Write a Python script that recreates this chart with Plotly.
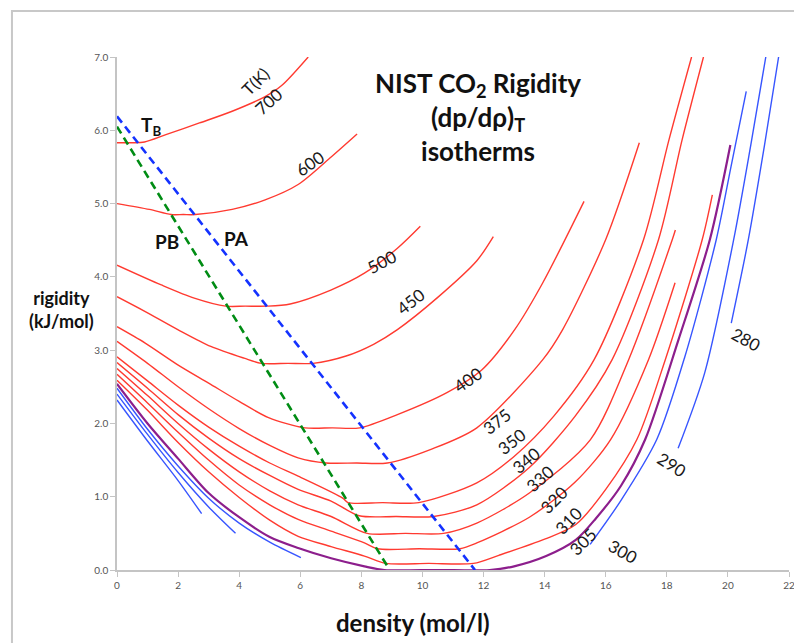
import plotly.graph_objects as go

# ---------------- data (density mol/l, rigidity kJ/mol) ----------------
rho_700 = [0, 0.5, 0.9, 1.6, 2.7, 3.77, 4.85, 5.39, 6.26]
rig_700 = [5.83, 5.83, 5.84, 5.94, 6.10, 6.26, 6.46, 6.61, 7.0]

rho_600 = [0, 1.06, 1.77, 2.17, 2.57, 3.77, 4.85, 5.93, 7.02, 7.86]
rig_600 = [5.0, 4.92, 4.85, 4.85, 4.85, 4.92, 5.05, 5.26, 5.64, 5.95]

rho_500 = [0, 1.45, 2.53, 3.56, 4.2, 4.91, 5.67, 7.0, 8.1, 9.18, 9.93]
rig_500 = [4.16, 3.89, 3.71, 3.60, 3.60, 3.60, 3.63, 3.82, 4.05, 4.39, 4.69]

rho_450 = [0, 0.91, 1.99, 3.07, 4.16, 4.72, 5.6, 6.42, 7.5, 8.4, 9.18, 10.5, 11.78, 12.32]
rig_450 = [3.73, 3.53, 3.28, 3.05, 2.89, 2.82, 2.82, 2.82, 2.92, 3.08, 3.28, 3.72, 4.22, 4.55]

rho_400 = [0, 0.91, 1.99, 3.0, 4.0, 4.96, 6.15, 7.05, 7.95, 9.18, 10.8, 11.94, 13.02, 13.94, 15.29]
rig_400 = [3.32, 3.10, 2.80, 2.55, 2.30, 2.08, 1.94, 1.94, 1.94, 2.12, 2.42, 2.73, 3.28, 3.92, 5.03]

rho_375 = [0, 1, 2, 3, 4, 5, 5.93, 6.85, 7.85, 8.85, 10.3, 11.78, 13.94, 14.59, 16.0, 17.1]
rig_375 = [3.12, 2.82, 2.50, 2.20, 1.93, 1.70, 1.53, 1.46, 1.46, 1.46, 1.65, 1.94, 2.87, 3.28, 4.51, 5.83]

rho_350 = [0, 1, 2, 3, 4, 5, 5.93, 7.39, 7.56, 8.7, 9.88, 11.78, 13.0, 14.3, 15.62, 17.24, 18.07, 18.81]
rig_350 = [2.91, 2.58, 2.25, 1.95, 1.69, 1.46, 1.28, 0.98, 0.92, 0.92, 0.92, 1.19, 1.55, 2.10, 2.87, 4.51, 5.87, 7.0]

rho_340 = [0, 1, 2, 3, 4, 5, 5.93, 7.01, 7.93, 9.15, 10.37, 11.78, 13.5, 15.0, 16.21, 17.73, 18.5, 19.2]
rig_340 = [2.83, 2.48, 2.12, 1.80, 1.52, 1.29, 1.10, 0.94, 0.74, 0.73, 0.73, 0.89, 1.40, 2.10, 2.87, 4.51, 5.87, 7.0]

rho_330 = [0, 1, 2, 3, 4, 5, 5.93, 7.01, 8.19, 9.45, 10.69, 11.78, 13.5, 15.5, 16.75, 18.18, 18.28]
rig_330 = [2.75, 2.38, 2.00, 1.65, 1.34, 1.08, 0.89, 0.73, 0.50, 0.50, 0.50, 0.64, 1.05, 1.78, 2.87, 4.51, 4.64]

rho_320 = [0, 1, 2, 3, 4, 5, 5.93, 7.01, 8.1, 8.53, 9.9, 11.23, 11.78, 13.5, 15.0, 16.16, 17.4, 18.27]
rig_320 = [2.67, 2.28, 1.88, 1.50, 1.16, 0.89, 0.69, 0.53, 0.37, 0.29, 0.29, 0.29, 0.37, 0.72, 1.20, 1.78, 2.87, 3.92]

rho_310 = [0, 1, 2, 3, 4, 5, 5.93, 7.01, 8.1, 8.8, 10.2, 11.67, 12.5, 14.0, 15.02, 16.0, 17.02, 17.95, 19.16, 19.49]
rig_310 = [2.59, 2.18, 1.74, 1.34, 0.99, 0.68, 0.46, 0.32, 0.19, 0.09, 0.09, 0.09, 0.20, 0.42, 0.62, 1.10, 1.78, 2.87, 4.51, 5.12]

rho_305 = [0, 1, 2, 3, 4, 5, 5.93, 7.01, 8.1, 8.75, 10.5, 12.2, 13.0, 14.05, 15.02, 15.67, 16.5, 17.29, 18.38, 19.41, 20.08]
rig_305 = [2.54, 2.00, 1.52, 1.05, 0.72, 0.45, 0.30, 0.16, 0.05, 0.0, 0.0, 0.0, 0.05, 0.19, 0.41, 0.70, 1.15, 1.78, 3.14, 4.51, 5.80]

# sub-critical isotherms: gas branch and liquid branch
rho_300_gas = [0, 1, 2, 3, 4, 5, 6.02]
rig_300_gas = [2.48, 1.92, 1.42, 0.98, 0.64, 0.38, 0.17]
rho_300_liq = [15.49, 16.5, 17.67, 18.59, 19.62, 20.1, 20.6]
rig_300_liq = [0.35, 0.95, 1.78, 2.91, 4.51, 5.5, 6.53]

rho_290_gas = [0, 1, 2, 3, 3.88]
rig_290_gas = [2.40, 1.85, 1.33, 0.86, 0.50]
rho_290_liq = [18.37, 19.24, 20.19, 20.75, 21.24]
rig_290_liq = [1.66, 2.69, 4.51, 5.80, 7.0]

rho_280_gas = [0, 1, 2, 2.77]
rig_280_gas = [2.32, 1.76, 1.22, 0.77]
rho_280_liq = [20.11, 20.67, 21.2, 21.66]
rig_280_liq = [3.37, 4.51, 5.80, 7.0]

# percolation boundaries
rho_PB = [0, 8.9]
rig_PB = [6.05, 0.02]
rho_PA = [0, 11.72]
rig_PA = [6.19, 0.0]

# isotherm labels
label_text = ["T(K)", "700", "600", "500", "450", "400", "375", "350", "340", "330", "320", "310", "305", "300", "290", "280"]
label_rho = [4.53, 4.96, 6.31, 8.69, 9.61, 11.5, 12.43, 12.92, 13.38, 13.85, 14.32, 14.79, 15.26, 16.56, 18.16, 20.6]
label_rig = [6.67, 6.39, 5.55, 4.21, 3.66, 2.6, 2.03, 1.75, 1.50, 1.25, 0.96, 0.67, 0.39, 0.25, 1.44, 3.14]
label_angle = [-45, -42, -35, -28, -38, -35, -38, -38, -40, -42, -45, -45, -45, 30, 32, 28]

x_ticks = [0, 2, 4, 6, 8, 10, 12, 14, 16, 18, 20, 22]
y_ticks = [0, 1, 2, 3, 4, 5, 6, 7]

# ---------------- figure ----------------
RED = "rgb(255,58,48)"
BLUE = "rgb(55,85,255)"
PURPLE = "rgb(140,30,140)"

fig = go.Figure()

def add_line(x, y, color, width=1.4, dash=None, smooth=0.8):
    fig.add_trace(go.Scatter(
        x=x, y=y, mode="lines",
        line=dict(color=color, width=width, dash=dash,
                  shape="spline" if smooth else "linear",
                  smoothing=smooth if smooth else None),
        hoverinfo="skip", showlegend=False))

for xs, ys in [(rho_700, rig_700), (rho_600, rig_600), (rho_500, rig_500),
               (rho_450, rig_450), (rho_400, rig_400), (rho_375, rig_375),
               (rho_350, rig_350), (rho_340, rig_340), (rho_330, rig_330),
               (rho_320, rig_320), (rho_310, rig_310)]:
    add_line(xs, ys, RED)

for xs, ys in [(rho_300_gas, rig_300_gas), (rho_300_liq, rig_300_liq),
               (rho_290_gas, rig_290_gas), (rho_290_liq, rig_290_liq),
               (rho_280_gas, rig_280_gas), (rho_280_liq, rig_280_liq)]:
    add_line(xs, ys, BLUE)

add_line(rho_305, rig_305, PURPLE, width=2.2)

add_line(rho_PB, rig_PB, "rgb(0,140,20)", width=2.6, dash="8px,5px", smooth=0)
add_line(rho_PA, rig_PA, "rgb(20,50,255)", width=2.6, dash="8px,5px", smooth=0)

FONT = "Lato, 'Open Sans', sans-serif"
annotations = []
for t, xx, yy, a in zip(label_text, label_rho, label_rig, label_angle):
    annotations.append(dict(x=xx, y=yy, text=t, textangle=a, showarrow=False,
                            xanchor="center", yanchor="middle",
                            font=dict(family=FONT, size=17, color="#1a1a1a")))

annotations += [
    dict(x=0.537, y=0.985, xref="paper", yref="paper",
         text="<b>NIST CO<sub>2</sub> Rigidity<br>(dp/dρ)<sub>T</sub><br>isotherms</b>",
         showarrow=False, align="center", xanchor="center", yanchor="top",
         font=dict(family=FONT, size=26, color="#111")),
    dict(x=1.1, y=6.06, text="<b>T<sub>B</sub></b>", showarrow=False,
         xanchor="center", yanchor="middle",
         font=dict(family=FONT, size=19, color="#111")),
    dict(x=1.65, y=4.48, text="<b>PB</b>", showarrow=False,
         xanchor="center", yanchor="middle",
         font=dict(family=FONT, size=19, color="#111")),
    dict(x=3.92, y=4.52, text="<b>PA</b>", showarrow=False,
         xanchor="center", yanchor="middle",
         font=dict(family=FONT, size=19, color="#111")),
    dict(x=-0.0826, y=0.507, xref="paper", yref="paper",
         text="<b>rigidity<br>(kJ/mol)</b>", showarrow=False, align="center",
         xanchor="center", yanchor="middle",
         font=dict(family=FONT, size=18, color="#111")),
    dict(x=0.441, y=-0.103, xref="paper", yref="paper",
         text="<b>density (mol/l)</b>", showarrow=False,
         xanchor="center", yanchor="middle",
         font=dict(family=FONT, size=24, color="#111")),
]

axis_common = dict(showgrid=False, zeroline=False, showline=True,
                   linecolor="#c4c4c4", linewidth=1.5,
                   ticks="outside", ticklen=5, tickcolor="#c4c4c4", tickwidth=1.2,
                   tickfont=dict(family=FONT, size=10, color="#555"))

# the page adds an 8px body margin, so the figure is 8px smaller
fig.update_layout(
    width=794, height=635,
    margin=dict(l=109, r=7, t=49, b=73),
    paper_bgcolor="white", plot_bgcolor="white",
    xaxis=dict(range=[0, 22], tickvals=x_ticks, ticktext=[str(v) for v in x_ticks], **axis_common),
    yaxis=dict(range=[0, 7], tickvals=y_ticks, ticktext=[f"{v:.1f}" for v in y_ticks], **axis_common),
    annotations=annotations,
    shapes=[dict(type="rect", xref="paper", yref="paper",
                 x0=-0.1563, x1=1.2, y0=-0.3, y1=1.0896,
                 line=dict(color="#c8c8c8", width=2), layer="above")],
)

fig.write_html("out.html")
